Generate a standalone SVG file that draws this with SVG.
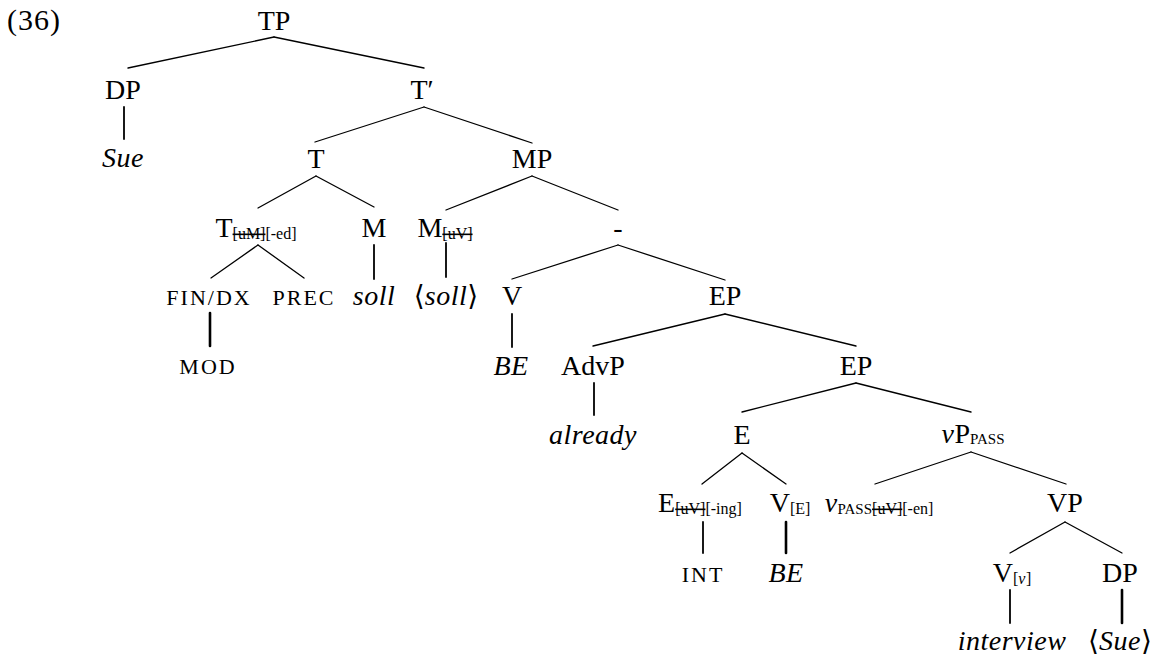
<svg xmlns="http://www.w3.org/2000/svg" width="1157" height="657" viewBox="0 0 1157 657">
<style>
text{font-family:"Liberation Serif","DejaVu Serif",serif;font-size:28px;fill:#000;text-anchor:middle}
.num{font-size:30px;letter-spacing:1px}
.it{font-style:italic;letter-spacing:0.5px}
.sc{font-size:22px;letter-spacing:2px}
.sub{font-size:16px}
.subsc{font-size:15px}
.st{text-decoration:line-through}
#edges line{stroke:#000;stroke-width:1.3;stroke-linecap:round}
#edges line.v{stroke-width:1.8}
#edges line.vt{stroke-width:2.6}
</style>
<rect width="1157" height="657" fill="#fff"/>
<text class="num" x="7" y="30" style="text-anchor:start">(36)</text>
<g id="edges">
<line x1="274" y1="37" x2="128" y2="68"/>
<line x1="274" y1="37" x2="424" y2="68"/>
<line class="v" x1="124" y1="107" x2="124" y2="139"/>
<line x1="424" y1="107" x2="315" y2="142"/>
<line x1="424" y1="107" x2="532" y2="143"/>
<line x1="316" y1="176" x2="258" y2="208"/>
<line x1="316" y1="176" x2="374" y2="207"/>
<line x1="532" y1="176" x2="446" y2="210"/>
<line x1="532" y1="176" x2="618" y2="210"/>
<line x1="258" y1="245" x2="211" y2="278"/>
<line x1="258" y1="245" x2="304" y2="278"/>
<line class="v" x1="374" y1="245" x2="374" y2="279"/>
<line class="v" x1="446" y1="243" x2="446" y2="277"/>
<line x1="618" y1="245" x2="512" y2="279"/>
<line x1="618" y1="245" x2="725" y2="280"/>
<line class="vt" x1="210" y1="313" x2="210" y2="346"/>
<line class="v" x1="512" y1="314" x2="512" y2="347"/>
<line x1="725" y1="314" x2="593" y2="346"/>
<line x1="725" y1="314" x2="856" y2="346"/>
<line class="v" x1="594" y1="383" x2="594" y2="415"/>
<line x1="856" y1="383" x2="742" y2="412"/>
<line x1="856" y1="383" x2="971" y2="412"/>
<line x1="742" y1="453" x2="702" y2="484"/>
<line x1="742" y1="453" x2="786" y2="484"/>
<line x1="971" y1="452" x2="875" y2="484"/>
<line x1="971" y1="452" x2="1066" y2="484"/>
<line class="v" x1="703" y1="522" x2="703" y2="553"/>
<line class="vt" x1="786" y1="522" x2="786" y2="553"/>
<line x1="1065" y1="522" x2="1010" y2="553"/>
<line x1="1065" y1="522" x2="1122" y2="553"/>
<line class="v" x1="1010" y1="590" x2="1010" y2="623"/>
<line class="vt" x1="1122" y1="590" x2="1122" y2="623"/>
</g>
<g id="n-TP"><text x="274" y="30">TP</text></g>
<g id="n-DP1"><text x="123" y="99">DP</text></g>
<g id="n-Sue"><text class="it" x="123" y="167">Sue</text></g>
<g id="n-Tbar"><text x="422" y="99">T′</text></g>
<g id="n-T"><text x="316" y="168">T</text></g>
<g id="n-MP"><text x="532" y="168">MP</text></g>
<g id="n-Tfeat"><text x="256" y="237">T<tspan class="sub st" dy="2">[uM]</tspan><tspan class="sub">[-ed]</tspan></text></g>
<g id="n-M"><text x="374" y="237">M</text></g>
<g id="n-soll"><text class="it" x="374" y="305">soll</text></g>
<g id="n-Mfeat"><text x="445" y="237">M<tspan class="sub st" dy="2">[uV]</tspan></text></g>
<g id="n-soll2"><text x="446" y="305">⟨<tspan class="it">soll</tspan>⟩</text></g>
<g id="n-dash"><text x="618" y="237">-</text></g>
<g id="n-FINDX"><text class="sc" x="209" y="305">FIN/DX</text></g>
<g id="n-PREC"><text class="sc" x="304" y="305">PREC</text></g>
<g id="n-MOD"><text class="sc" x="208" y="374">MOD</text></g>
<g id="n-V1"><text x="512" y="305">V</text></g>
<g id="n-BE1"><text class="it" x="511" y="375">BE</text></g>
<g id="n-EP1"><text x="725" y="305">EP</text></g>
<g id="n-AdvP"><text x="593" y="375">AdvP</text></g>
<g id="n-already"><text class="it" x="593" y="444">already</text></g>
<g id="n-EP2"><text x="856" y="375">EP</text></g>
<g id="n-E"><text x="742" y="444">E</text></g>
<g id="n-vP"><text x="973" y="443"><tspan class="it">ν</tspan>P<tspan class="subsc" dy="1">PASS</tspan></text></g>
<g id="n-Efeat"><text x="700" y="512">E<tspan class="sub st" dy="2">[uV]</tspan><tspan class="sub">[-ing]</tspan></text></g>
<g id="n-VE"><text x="790" y="512">V<tspan class="sub" dy="2">[E]</tspan></text></g>
<g id="n-INT"><text class="sc" x="703" y="582">INT</text></g>
<g id="n-BE2"><text class="it" x="786" y="582">BE</text></g>
<g id="n-vpass"><text x="879" y="512"><tspan class="it">ν</tspan><tspan class="subsc" dy="2">PASS</tspan><tspan class="sub st">[uV]</tspan><tspan class="sub">[-en]</tspan></text></g>
<g id="n-VP"><text x="1065" y="512">VP</text></g>
<g id="n-Vv"><text x="1012" y="582">V<tspan class="sub" dy="2">[<tspan class="it">v</tspan>]</tspan></text></g>
<g id="n-DP2"><text x="1120" y="582">DP</text></g>
<g id="n-interview"><text class="it" x="1012" y="650">interview</text></g>
<g id="n-Sue2"><text x="1120" y="650">⟨<tspan class="it">Sue</tspan>⟩</text></g>
</svg>
